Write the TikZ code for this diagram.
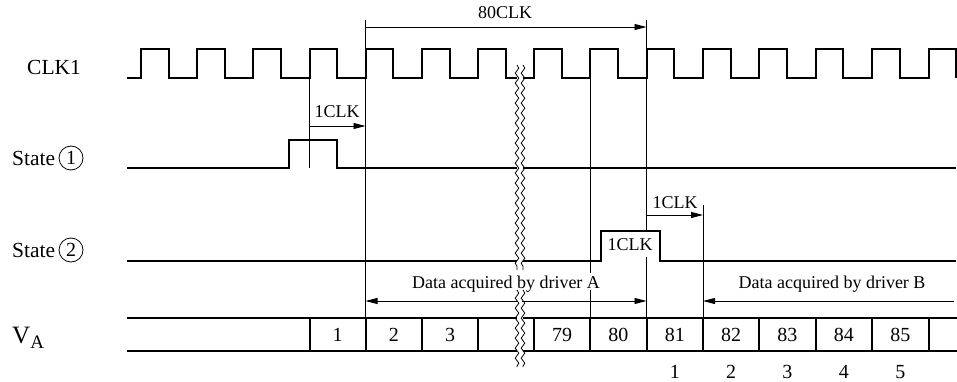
\documentclass[tikz,border=0pt]{standalone}
\usepackage{fontspec}
\setmainfont{Liberation Serif}
\usetikzlibrary{arrows.meta,decorations.pathmorphing}
\begin{document}
\begin{tikzpicture}[x=1pt,y=-1pt,
  sig/.style={line width=2pt, line join=miter},
  vline/.style={line width=0.9pt},
  tipr/.style={line width=0.9pt,-{Triangle[length=12pt,width=6pt]}},
  tipl/.style={line width=0.9pt,{Triangle[length=12pt,width=6pt]}-},
  tipb/.style={line width=0.9pt,{Triangle[length=12pt,width=6pt]}-{Triangle[length=12pt,width=6pt]}},
  small/.style={font=\fontsize{18}{20}\selectfont, inner sep=1pt},
  lab/.style={font=\fontsize{21.5}{24}\selectfont, anchor=base west, inner sep=0pt},
  num/.style={font=\fontsize{20}{22}\selectfont, inner sep=0pt},
  circ/.style={circle, draw, line width=0.8pt, minimum size=24pt, inner sep=0pt, font=\fontsize{20}{21}\selectfont},
  squig/.style={line width=0.8pt, decorate, decoration={snake, segment length=10pt, amplitude=1.8pt}}
]
\useasboundingbox (0,0) rectangle (957,382);

% ---- left labels
\node[lab] (lclk) at (27,75) {CLK1};
\node[lab] (ls1) at (12,165) {State};
\node[circ] (c1) at (71,158) {1};
\node[lab] (ls2) at (12,257) {State};
\node[circ] (c2) at (71,250) {2};
\node[lab, font=\fontsize{25}{26}\selectfont] (lva) at (12,343) {V\raisebox{-5pt}{\fontsize{19}{20}\selectfont A}};

% ---- clock
\draw[sig] (127,78) \foreach \r in {141,197,253,309.5,365.5,422,478}{ -- (\r,78) -- (\r,49) -- ({\r+27.5},49) -- ({\r+27.5},78) } -- (517,78);
\draw[sig] (523,78) \foreach \r in {534,590,646.5,703,759,815.5,872,928.5}{ -- (\r,78) -- (\r,49) -- ({\r+27.5},49) -- ({\r+27.5},78) };

% ---- state 1
\draw[sig] (127,168) -- (289,168) -- (289,140) -- (337,140) -- (337,168) -- (517,168);
\draw[sig] (523,168) -- (956,168);

% ---- state 2
\draw[sig] (127,261) -- (517,261);
\draw[sig] (523,261) -- (601,261) -- (601,231) -- (660,231) -- (660,261) -- (956,261);

% ---- bus
\draw[sig] (127,318) -- (517,318) (523,318) -- (957,318);
\draw[sig] (127,351) -- (517,351) (523,351) -- (957,351);
\foreach \x in {309.5,365.5,422,478,534,590,646.5,703,759,815.5,872,928.5}
  \draw[sig] (\x,318) -- (\x,351);

% ---- named coordinates for markers
\coordinate (m1t) at (365.5,20);  \coordinate (m1b) at (365.5,318);
\coordinate (m2t) at (646.5,20);  \coordinate (m2g) at (646.5,232);
\coordinate (m2h) at (646.5,257); \coordinate (m2b) at (646.5,318);
\coordinate (m0t) at (309.5,78);  \coordinate (m0b) at (309.5,168);
\coordinate (m3t) at (590,78);    \coordinate (m3g) at (590,273);
\coordinate (m3h) at (590,290);   \coordinate (m3b) at (590,318);
\coordinate (m4t) at (703,205);   \coordinate (m4b) at (703,318);

\draw[vline] (m1t) -- (m1b);
\draw[vline] (m2t) -- (m2g) (m2h) -- (m2b);
\draw[vline] (m0t) -- (m0b);
\draw[vline] (m3t) -- (m3g) (m3h) -- (m3b);
\draw[vline] (m4t) -- (m4b);

% ---- dimension arrows
\coordinate (a80s) at (365.5,27); \coordinate (a80e) at (646.5,27);
\draw[tipr] (a80s) -- (a80e);
\coordinate (c1s) at (309.5,126); \coordinate (c1e) at (365.5,126);
\draw[tipr] (c1s) -- (c1e);
\coordinate (c2s) at (646.5,215); \coordinate (c2e) at (703,215);
\draw[tipr] (c2s) -- (c2e);
\coordinate (das) at (365.5,301); \coordinate (dae) at (646.5,301);
\draw[tipb] (das) -- (dae);
\coordinate (dbs) at (703,301); \coordinate (dbe) at (954,301);
\draw[tipl] (dbs) -- (dbe);

% ---- break squiggles (gap at the text line)
\fill[white] (518,292) rectangle (522,310);
\draw[squig] (517,65) -- (517,270);
\draw[squig] (523,65) -- (523,270);
\draw[squig] (517,290) -- (517,367);
\draw[squig] (523,290) -- (523,367);

% ---- texts
\node[small] (t80) at (505,13) {80CLK};
\node[small] (t1a) at (337,112) {1CLK};
\node[small] (t1b) at (675,203) {1CLK};
\node[small] (t1c) at (630,245) {1CLK};
\node[small] (tda) at (506,284) {Data acquired by driver A};
\node[small] (tdb) at (832,284) {Data acquired by driver B};

% ---- cell numbers
\foreach \t/\x in {1/337.5, 2/393.75, 3/450, 79/562, 80/618.25, 81/674.75, 82/731, 83/787.25, 84/843.75, 85/900.25}
  \node[num] (n\t) at (\x,335) {\t};
\foreach \t/\x in {1/674.75, 2/731, 3/787.25, 4/843.75, 5/900.25}
  \node[num] (b\t) at (\x,372) {\t};
\end{tikzpicture}
\end{document}
